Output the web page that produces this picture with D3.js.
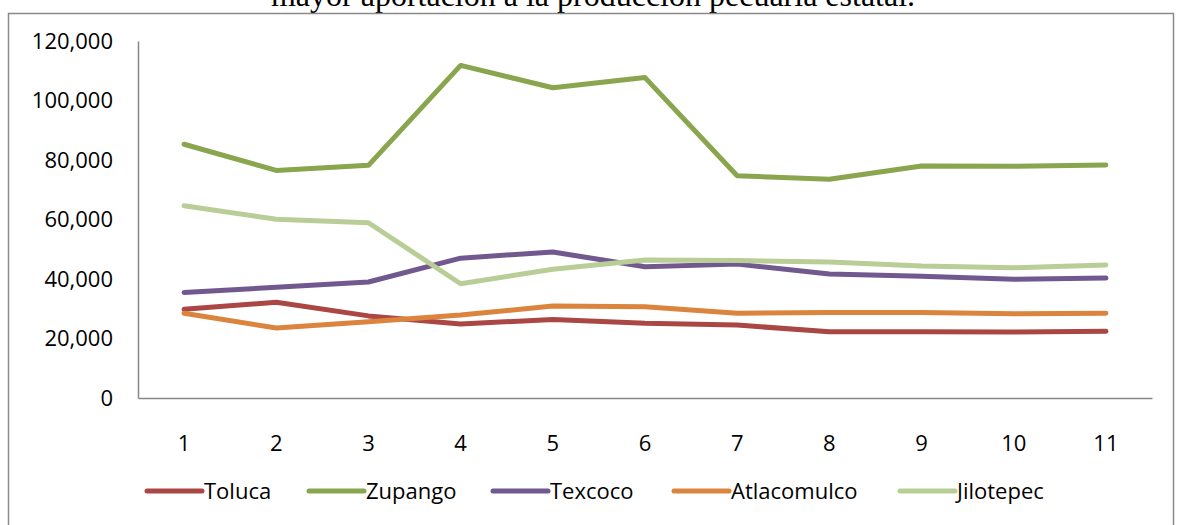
<!DOCTYPE html>
<html>
<head>
<meta charset="utf-8">
<script src="https://cdn.jsdelivr.net/npm/d3@7"></script>
<style>
  body { margin: 0; background: #fff; }
  svg { display: block; }
</style>
</head>
<body>
<svg id="chart" width="1181" height="525"></svg>
<script>
// categorias (eje x) y valores de cada municipio
const categorias = [1, 2, 3, 4, 5, 6, 7, 8, 9, 10, 11];
const toluca      = [29800, 32200, 27600, 24900, 26400, 25100, 24500, 22300, 22300, 22200, 22400];
const zupango     = [85300, 76500, 78200, 111800, 104300, 107700, 74700, 73500, 78000, 77900, 78300];
const texcoco     = [35500, 37200, 39000, 47000, 49100, 44100, 45000, 41700, 40900, 39900, 40300];
const atlacomulco = [28500, 23500, 25600, 27900, 30900, 30700, 28500, 28700, 28700, 28300, 28500];
const jilotepec   = [64600, 60100, 58900, 38400, 43300, 46400, 46200, 45700, 44400, 43800, 44700];
const nombres = ["Toluca", "Zupango", "Texcoco", "Atlacomulco", "Jilotepec"];
const colores = ["#AA4643", "#89A54E", "#71588F", "#DB843D", "#B9CD96"];
const yTicks = [0, 20000, 40000, 60000, 80000, 100000, 120000];
const titulo = "mayor aportación a la producción pecuaria estatal.";

const series = [toluca, zupango, texcoco, atlacomulco, jilotepec];

const svg = d3.select("#chart");
const font = "'Open Sans', sans-serif";

// titulo (cortado arriba, como en el original)
svg.append("text")
  .attr("x", 593).attr("y", 6)
  .attr("text-anchor", "middle")
  .attr("font-family", "'Liberation Serif', 'Times New Roman', serif")
  .attr("font-size", 32)
  .text(titulo);

// marco del grafico
svg.append("rect")
  .attr("x", 8.5).attr("y", 13.5)
  .attr("width", 1165).attr("height", 530)
  .attr("fill", "none")
  .attr("stroke", "#8a8a8a")
  .attr("stroke-width", 1.5);

const x = d3.scaleBand()
  .domain(categorias)
  .range([138, 1152]);

const y = d3.scaleLinear()
  .domain([0, 120000])
  .range([398, 41]);

// ejes
const gy = svg.append("g")
  .attr("transform", "translate(138,0)")
  .call(d3.axisLeft(y).tickValues(yTicks).tickSize(0).tickPadding(25).tickFormat(d3.format(",")));

const gx = svg.append("g")
  .attr("transform", "translate(0,398)")
  .call(d3.axisBottom(x).tickSize(0).tickPadding(37));

[gx, gy].forEach(g => {
  g.select(".domain").attr("stroke", "#868686").attr("stroke-width", 1.5);
  g.selectAll("text")
    .attr("font-family", font)
    .attr("font-size", 22)
    .attr("fill", "#000");
});

// lineas
const line = d3.line()
  .x((d, i) => x(categorias[i]) + x.bandwidth() / 2)
  .y(d => y(d));

series.forEach((s, i) => {
  svg.append("path")
    .datum(s)
    .attr("fill", "none")
    .attr("stroke", colores[i])
    .attr("stroke-width", 5)
    .attr("stroke-linecap", "round")
    .attr("stroke-linejoin", "round")
    .attr("d", line);
});

// leyenda
const legendX = [147, 309, 493, 674, 900];
const leg = svg.append("g");
nombres.forEach((n, i) => {
  leg.append("line")
    .attr("x1", legendX[i]).attr("x2", legendX[i] + 55)
    .attr("y1", 491).attr("y2", 491)
    .attr("stroke", colores[i])
    .attr("stroke-width", 5)
    .attr("stroke-linecap", "round");
  leg.append("text")
    .attr("x", legendX[i] + 57).attr("y", 491)
    .attr("dy", "0.35em")
    .attr("font-family", font)
    .attr("font-size", 22)
    .text(n);
});
</script>
</body>
</html>
